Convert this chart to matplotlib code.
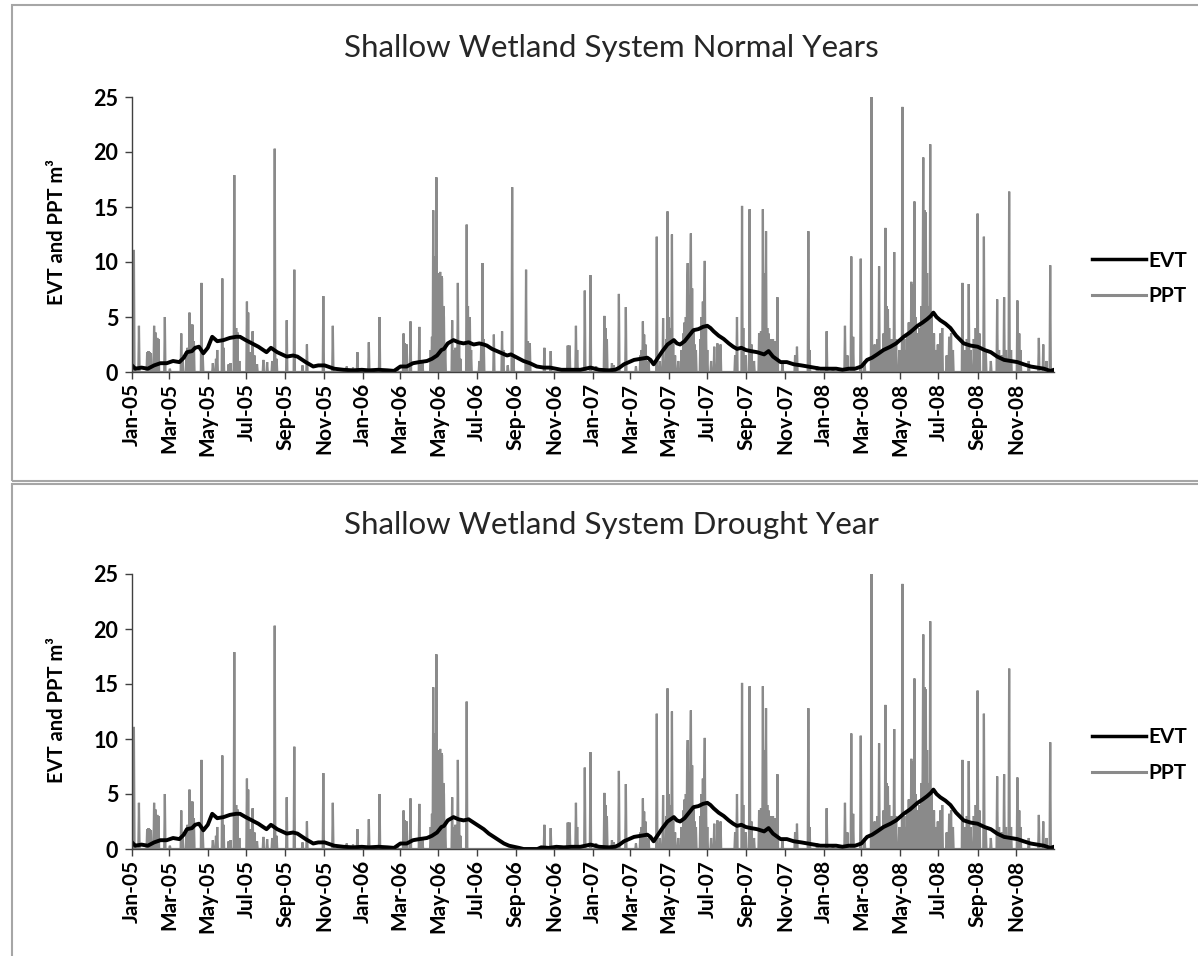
import numpy as np
import matplotlib
matplotlib.use("Agg")
import matplotlib.pyplot as plt
import matplotlib.dates as mdates
from matplotlib.patches import Rectangle
from matplotlib.lines import Line2D

plt.rcParams['font.family'] = ['Lato', 'DejaVu Sans']

# ---------------------------------------------------------------------------
# Daily record, 1 Jan 2005 - 31 Dec 2008 (day index 0 = 2005-01-01)
# ---------------------------------------------------------------------------
record_start = "2005-01-01"
record_end = "2008-12-31"
n_days = 1461

# Precipitation events (day index, m^3); all other days are dry
ppt_day_2005 = [0, 3, 5, 11, 24, 26, 28, 30, 35, 37, 40, 42, 52, 60, 78, 80, 86, 88,
                91, 94, 96, 98, 110, 112, 128, 133, 135, 143, 145, 153, 156, 162,
                165, 167, 170, 182, 184, 188, 191, 194, 198, 208, 214, 222, 226,
                229, 245, 257, 270, 277, 303, 318, 340, 350, 357]
ppt_val_2005 = [0.8, 11.1, 0.5, 4.2, 1.8, 1.9, 1.8, 1.7, 4.2, 3.6, 3.1, 3.0, 5.0, 0.3,
                3.5, 1.5, 1.5, 2.2, 5.4, 4.3, 4.3, 2.8, 8.1, 1.6, 0.8, 1.2, 2.0, 8.5,
                2.2, 0.7, 0.8, 17.9, 4.0, 3.6, 1.0, 6.4, 5.4, 1.8, 3.7, 1.5, 0.7,
                1.1, 0.9, 1.0, 20.3, 1.2, 4.7, 9.3, 0.6, 2.5, 6.9, 4.2, 0.5, 0.4, 1.8]

ppt_day_2006 = [375, 392, 420, 430, 432, 435, 441, 455, 460, 473, 475, 477, 479, 482,
                484, 486, 488, 490, 491, 493, 494, 496, 507, 509, 512, 516, 518, 520,
                530, 532, 535, 537, 550, 553, 555, 557, 573, 586, 588, 595, 602, 604,
                624, 627, 630, 653, 663, 690, 693, 703, 705, 717, 726]
ppt_val_2006 = [2.7, 5.0, 0.4, 3.5, 2.6, 2.5, 4.6, 4.1, 0.8, 2.0, 3.2, 14.7, 10.5, 17.7,
                6.5, 9.0, 9.1, 8.7, 8.5, 6.0, 5.0, 2.5, 4.7, 2.0, 2.2, 8.1, 2.5, 1.2,
                13.4, 6.0, 5.0, 2.0, 1.0, 2.5, 9.9, 3.0, 3.4, 3.7, 2.0, 0.6, 16.8, 1.5,
                9.3, 2.8, 2.6, 2.2, 1.9, 2.4, 2.4, 4.2, 2.0, 7.4, 8.8]

ppt_day_2007 = [735, 748, 750, 752, 760, 763, 771, 782, 798, 805, 807, 809, 811, 813,
                818, 831, 836, 841, 846, 848, 850, 852, 855, 857, 860, 865, 870, 873,
                875, 877, 879, 880, 882, 884, 885, 887, 889, 891, 893, 900, 902, 904,
                906, 907, 909, 911, 917, 922, 927, 932, 955, 958, 966, 968, 972, 978,
                981, 985, 993, 996, 999, 1001, 1004, 1006, 1008, 1011, 1015, 1019,
                1022, 1030, 1050, 1053, 1071, 1073, 1085]
ppt_val_2007 = [0.5, 5.1, 4.0, 3.0, 0.8, 0.6, 7.1, 5.9, 0.5, 1.5, 2.0, 4.6, 3.4, 2.5,
                1.0, 12.3, 1.0, 4.9, 3.0, 14.6, 5.0, 4.0, 12.5, 3.0, 1.5, 1.0, 2.0, 3.5,
                4.5, 5.0, 7.5, 9.9, 7.0, 8.0, 12.6, 7.6, 4.0, 2.5, 2.0, 3.0, 5.0, 6.4,
                6.0, 10.1, 4.0, 2.0, 1.0, 2.3, 2.6, 2.5, 1.5, 5.0, 15.1, 4.0, 1.5, 14.8,
                2.5, 1.0, 3.5, 3.7, 14.8, 9.0, 12.8, 4.0, 3.5, 3.0, 3.0, 2.8,
                6.8, 0.8, 1.5, 2.3, 12.8, 2.0, 0.5]

ppt_day_2008 = [1100, 1110, 1129, 1133, 1139, 1142, 1154, 1160, 1171, 1176, 1180, 1183,
                1186, 1190, 1193, 1195, 1197, 1199, 1203, 1207, 1210, 1215, 1220, 1223,
                1226, 1228, 1230, 1232, 1234, 1236, 1239, 1241, 1243, 1245, 1247, 1250,
                1252, 1253, 1255, 1257, 1259, 1262, 1264, 1266, 1270, 1273, 1276, 1280,
                1283, 1290, 1294, 1297, 1300, 1315, 1318, 1322, 1325, 1328, 1333, 1336,
                1339, 1342, 1349, 1352, 1360, 1370, 1373, 1377, 1381, 1384, 1389, 1392,
                1402, 1405, 1407, 1420, 1436, 1443, 1448, 1454]
ppt_val_2008 = [3.7, 0.4, 4.2, 1.5, 10.5, 3.2, 10.3, 1.0, 25.0, 2.5, 3.0, 9.6,
                2.0, 3.5, 13.1, 6.0, 5.7, 4.0, 3.0, 10.9, 3.0, 2.0, 24.1, 3.0,
                2.0, 3.5, 4.5, 4.0, 8.2, 8.0, 15.5, 5.0, 3.5, 3.0, 4.0, 6.0,
                7.0, 19.5, 14.7, 14.5, 9.0, 6.0, 20.7, 5.0, 3.5, 2.0, 2.5, 3.5,
                4.0, 1.5, 3.2, 3.5, 2.0, 8.1, 2.0, 3.0, 8.0, 2.0, 3.0, 4.0,
                14.4, 3.5, 12.3, 2.0, 1.0, 6.6, 2.0, 1.5, 6.8, 2.0, 16.4, 2.0,
                6.5, 3.5, 2.0, 1.0, 3.1, 2.5, 1.0, 9.7]

# Evapotranspiration (day index, m^3), normal-years run
evt_day = [0, 5, 15, 25, 35, 45, 55, 65, 75, 82, 87, 95, 100, 106, 113, 120, 127, 135,
           145, 155, 165, 171, 180, 190, 200, 213, 220, 230, 245, 255, 262, 275, 287,
           295, 305, 320, 335, 350, 364,
           375, 390, 405, 415, 425, 435, 445, 455, 467, 475, 483, 490, 494, 500, 509,
           517, 525, 533, 541, 550, 557, 562, 570, 578, 586, 594, 600, 610, 620, 630,
           641, 652, 662, 680, 694, 710, 726,
           740, 755, 765, 772, 779, 787, 795, 805, 816, 821, 826, 833, 840, 848, 858,
           863, 868, 875, 882, 889, 897, 904, 911, 916, 921, 929, 937, 945, 952, 958,
           965, 972, 980, 990, 1001, 1008, 1015, 1027, 1037, 1048, 1060, 1070, 1080,
           1090,
           1100, 1115, 1125, 1135, 1145, 1155, 1164, 1172, 1180, 1190, 1201, 1210,
           1222, 1232, 1244, 1252, 1259, 1265, 1269, 1274, 1280, 1288, 1296, 1305,
           1317, 1328, 1339, 1350, 1360, 1370, 1381, 1392, 1402, 1412, 1423, 1433,
           1444, 1454, 1460]
evt_val = [0.6, 0.3, 0.4, 0.3, 0.6, 0.8, 0.8, 1.0, 0.9, 1.3, 1.8, 1.9, 2.2, 2.3, 1.7,
           2.2, 3.2, 2.8, 2.9, 3.1, 3.2, 3.2, 2.9, 2.6, 2.3, 1.8, 2.2, 1.8, 1.4, 1.5,
           1.4, 0.9, 0.5, 0.6, 0.6, 0.3, 0.2, 0.15, 0.2,
           0.15, 0.2, 0.15, 0.1, 0.5, 0.5, 0.8, 0.9, 1.0, 1.2, 1.5, 2.0, 2.1, 2.6, 2.9,
           2.7, 2.6, 2.7, 2.5, 2.6, 2.5, 2.4, 2.1, 1.9, 1.7, 1.5, 1.6, 1.3, 1.0, 0.8,
           0.5, 0.4, 0.4, 0.2, 0.2, 0.2, 0.4,
           0.2, 0.15, 0.2, 0.4, 0.7, 0.9, 1.1, 1.2, 1.3, 1.1, 0.7, 1.3, 1.9, 2.5, 2.9,
           2.6, 2.5, 2.8, 3.3, 3.8, 3.9, 4.1, 4.2, 4.0, 3.7, 3.3, 3.0, 2.6, 2.3, 2.1,
           2.2, 2.0, 1.9, 1.8, 1.6, 1.9, 1.4, 0.9, 0.9, 0.7, 0.6, 0.5, 0.4,
           0.3,
           0.3, 0.3, 0.2, 0.3, 0.3, 0.5, 1.1, 1.3, 1.6, 2.0, 2.3, 2.6,
           3.2, 3.6, 4.2, 4.5, 4.8, 5.1, 5.4, 5.0, 4.7, 4.4, 4.0, 3.3,
           2.6, 2.4, 2.3, 2.0, 1.8, 1.4, 1.1, 1.0, 0.9, 0.7, 0.5, 0.4,
           0.3, 0.1, 0.2]

# Drought scenario: no rainfall over this window, and EVT over the
# second half of 2006 follows the values below
drought_dry_first, drought_dry_last = 531, 645
evt_drought_day = [541, 549, 557, 565, 573, 581, 589, 597, 605, 613, 620, 642, 648,
                   660, 672, 684, 696]
evt_drought_val = [2.4, 2.1, 1.8, 1.4, 1.1, 0.8, 0.5, 0.3, 0.2, 0.1, 0.0, 0.0, 0.15,
                   0.1, 0.2, 0.15, 0.2]

titles = ["Shallow Wetland System Normal Years", "Shallow Wetland System Drought Year"]
y_label = "EVT and PPT m³"
y_ticks = [0, 5, 10, 15, 20, 25]

# ---------------------------------------------------------------------------
dates = np.datetime64(record_start) + np.arange(n_days)

ppt_normal = np.zeros(n_days)
for d, v in [(ppt_day_2005, ppt_val_2005), (ppt_day_2006, ppt_val_2006),
             (ppt_day_2007, ppt_val_2007), (ppt_day_2008, ppt_val_2008)]:
    ppt_normal[np.array(d)] = v

ppt_drought = ppt_normal.copy()
ppt_drought[drought_dry_first:drought_dry_last + 1] = 0.0

evt_day_a = np.array(evt_day)
evt_val_a = np.array(evt_val)
lo, hi = evt_drought_day[0], evt_drought_day[-1]
keep = (evt_day_a < lo) | (evt_day_a > hi)
evt_d_day = np.concatenate([evt_day_a[keep], evt_drought_day])
evt_d_val = np.concatenate([evt_val_a[keep], evt_drought_val])
order = np.argsort(evt_d_day)
evt_d_day, evt_d_val = evt_d_day[order], evt_d_val[order]

W, H = 1198, 956
fig = plt.figure(figsize=(W / 100, H / 100), dpi=100)

# panel frames
frame_col = "#a6a6a6"
fig.add_artist(Rectangle((11.5 / W, 1 - 481 / H), (W + 10) / W, (481 - 5) / H,
                         transform=fig.transFigure, fill=False, ec=frame_col, lw=1.5))
fig.add_artist(Rectangle((11.5 / W, -0.05), (W + 10) / W, 0.05 + 1 - 484 / H,
                         transform=fig.transFigure, fill=False, ec=frame_col, lw=1.5))

PPT_COL = "#8a8a8a"
panels = [
    dict(zero=372, top=97, title_y=48, ylab_y=232, leg_y=278.5,
         ppt=ppt_normal, evt=(evt_day_a, evt_val_a)),
    dict(zero=849, top=574, title_y=525, ylab_y=710, leg_y=755,
         ppt=ppt_drought, evt=(evt_d_day, evt_d_val)),
]

x0, x1 = 132, 1054
for i, p in enumerate(panels):
    ax = fig.add_axes([x0 / W, 1 - p["zero"] / H, (x1 - x0) / W, (p["zero"] - p["top"]) / H])
    ax.plot(dates, p["ppt"], color=PPT_COL, lw=1.6, solid_joinstyle="miter")
    ed, ev = p["evt"]
    ax.plot(np.datetime64(record_start) + ed, ev, color="black", lw=2.8)

    ax.set_xlim(np.datetime64(record_start), np.datetime64(record_end))
    ax.set_ylim(0, 25)
    ax.set_yticks(y_ticks)
    ax.xaxis.set_major_locator(mdates.MonthLocator(bymonth=[1, 3, 5, 7, 9, 11]))
    ax.xaxis.set_major_formatter(mdates.DateFormatter("%b-%y"))
    for s in ["top", "right"]:
        ax.spines[s].set_visible(False)
    for s in ["left", "bottom"]:
        ax.spines[s].set_color("#404040")
        ax.spines[s].set_linewidth(1.0)
    ax.tick_params(axis="both", direction="out", length=5, width=1, color="#404040")
    ax.tick_params(axis="y", labelsize=15.5, pad=5)
    ax.tick_params(axis="x", labelsize=15, pad=3)
    for lab in ax.get_yticklabels():
        lab.set_fontweight("bold")
    for lab in ax.get_xticklabels():
        lab.set_fontweight("bold")
        lab.set_rotation(90)
        lab.set_ha("center")
        lab.set_va("top")

    fig.text(611 / W, 1 - p["title_y"] / H, titles[i], ha="center", va="center",
             fontsize=22.5, color="#262626")
    fig.text(57 / W, 1 - p["ylab_y"] / H, y_label, ha="center", va="center",
             rotation=90, fontsize=14.5, fontweight="bold")

    handles = [Line2D([], [], color="black", lw=2.5), Line2D([], [], color=PPT_COL, lw=2.2)]
    ax.legend(handles, ["EVT", "PPT"], loc="center left",
              bbox_to_anchor=(1092 / W, 1 - p["leg_y"] / H), bbox_transform=fig.transFigure,
              frameon=False, borderpad=0, borderaxespad=0, handlelength=2.6,
              handletextpad=0.1, labelspacing=0.75,
              prop=dict(size=15, weight="bold"))

fig.savefig("out.png", dpi=100)
